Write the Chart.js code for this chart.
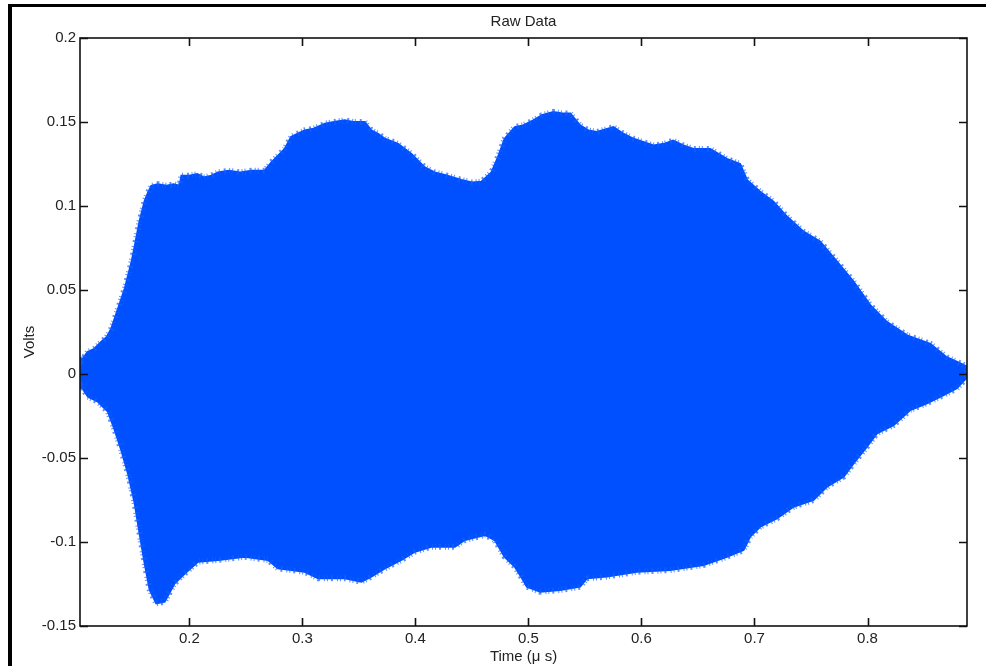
<!DOCTYPE html>
<html>
<head>
<meta charset="utf-8">
<script src="https://cdn.jsdelivr.net/npm/chart.js@4.4.1/dist/chart.umd.min.js"></script>
<style>
  html, body { margin: 0; padding: 0; background: #fff; }
  #wrap { position: relative; width: 986px; height: 666px; overflow: hidden; }
  #frame { position: absolute; left: 8px; top: 4px; width: 990px; height: 700px;
           border-left: 4px solid #000; border-top: 3px solid #000; pointer-events: none; }
  canvas { position: absolute; left: 0; top: 0; }
</style>
</head>
<body>
<div id="wrap">
  <canvas id="c" width="986" height="666"></canvas>
  <div id="frame"></div>
</div>
<script>
// ---- data (envelope of the raw signal) ----
const upperTime = [0.1033,0.1045,0.110,0.116,0.122,0.127,0.131,0.137,0.143,0.149,0.152,0.156,0.1605,0.1635,0.1664,0.172,0.180,0.186,0.1915,0.193,0.200,0.207,0.213,0.2195,0.2254,0.235,0.245,0.255,0.2667,0.2726,0.2785,0.2844,0.290,0.296,0.302,0.310,0.320,0.328,0.3375,0.345,0.3552,0.361,0.367,0.373,0.3847,0.3965,0.4083,0.417,0.426,0.4407,0.450,0.4584,0.4673,0.473,0.479,0.488,0.4953,0.5044,0.512,0.522,0.530,0.537,0.5457,0.553,0.5605,0.5752,0.584,0.593,0.6106,0.620,0.628,0.637,0.646,0.6608,0.6756,0.6873,0.6933,0.705,0.7168,0.7287,0.7434,0.758,0.773,0.7876,0.8024,0.817,0.835,0.8555,0.870,0.885,0.888];
const upperVolts = [0.010,0.008,0.013,0.015,0.019,0.022,0.027,0.039,0.051,0.067,0.077,0.091,0.103,0.108,0.112,0.113,0.112,0.113,0.112,0.118,0.118,0.119,0.117,0.118,0.120,0.121,0.120,0.121,0.121,0.126,0.130,0.134,0.141,0.143,0.145,0.146,0.149,0.150,0.151,0.150,0.150,0.145,0.143,0.140,0.137,0.131,0.123,0.120,0.1185,0.1155,0.114,0.1145,0.120,0.129,0.140,0.147,0.148,0.151,0.154,0.156,0.155,0.155,0.148,0.145,0.144,0.147,0.143,0.140,0.136,0.137,0.139,0.136,0.134,0.134,0.128,0.125,0.1155,0.1085,0.1026,0.0937,0.0847,0.0788,0.0669,0.055,0.041,0.031,0.023,0.018,0.010,0.0054,0.004];
const lowerTime = [0.1033,0.1045,0.1104,0.1192,0.128,0.134,0.1398,0.1457,0.1517,0.156,0.1605,0.165,0.1708,0.1782,0.187,0.196,0.2077,0.2254,0.249,0.2697,0.2785,0.302,0.314,0.3375,0.3522,0.361,0.373,0.3876,0.3995,0.414,0.4349,0.4437,0.4614,0.4703,0.479,0.488,0.4953,0.4986,0.5104,0.528,0.5457,0.5517,0.5694,0.596,0.6254,0.6549,0.6756,0.6903,0.6962,0.705,0.7198,0.7345,0.7522,0.764,0.7788,0.7876,0.7995,0.8083,0.823,0.8378,0.8525,0.8673,0.879,0.888];
const lowerVolts = [-0.009,-0.0075,-0.0135,-0.0165,-0.0224,-0.0333,-0.0452,-0.059,-0.077,-0.0948,-0.1127,-0.1286,-0.1365,-0.1355,-0.1246,-0.1187,-0.1117,-0.1107,-0.1088,-0.1107,-0.1157,-0.1177,-0.1216,-0.1216,-0.1236,-0.1206,-0.1157,-0.1107,-0.1058,-0.1028,-0.1028,-0.0988,-0.0958,-0.0988,-0.1088,-0.1147,-0.1226,-0.1266,-0.1296,-0.1286,-0.1266,-0.1216,-0.1206,-0.1177,-0.1167,-0.1137,-0.1088,-0.1048,-0.0968,-0.0909,-0.0859,-0.0790,-0.0750,-0.0671,-0.0611,-0.0532,-0.0433,-0.0353,-0.0304,-0.0214,-0.0174,-0.0125,-0.0085,-0.002];

const xTicks = [0.2, 0.3, 0.4, 0.5, 0.6, 0.7, 0.8];
const xTickLabels = ['0.2', '0.3', '0.4', '0.5', '0.6', '0.7', '0.8'];
const yTicks = [-0.15, -0.1, -0.05, 0, 0.05, 0.1, 0.15, 0.2];
const yTickLabels = ['-0.15', '-0.1', '-0.05', '0', '0.05', '0.1', '0.15', '0.2'];

const titleText = 'Raw Data';
const xTitle = 'Time (\u03bc s)';
const yTitle = 'Volts';

// closed polygon: upper envelope left->right, lower envelope right->left
const shape = [];
upperTime.forEach((t, i) => shape.push({ x: t, y: upperVolts[i] }));
for (let i = lowerTime.length - 1; i >= 0; i--) shape.push({ x: lowerTime[i], y: lowerVolts[i] });

const FONT = '"Liberation Sans", Arial, Helvetica, sans-serif';
const BLUE = 'rgb(0,80,255)';

const deco = {
  id: 'deco',
  afterDraw(chart) {
    const ctx = chart.ctx, a = chart.chartArea;
    const xs = chart.scales.x, ys = chart.scales.y;
    ctx.save();
    ctx.strokeStyle = '#111';
    ctx.lineWidth = 1.6;
    ctx.strokeRect(a.left, a.top, a.right - a.left, a.bottom - a.top);
    const L = 8;
    ctx.beginPath();
    xTicks.forEach(v => {
      const p = Math.round(xs.getPixelForValue(v)) + 0.5;
      ctx.moveTo(p, a.bottom); ctx.lineTo(p, a.bottom - L);
      ctx.moveTo(p, a.top); ctx.lineTo(p, a.top + L);
    });
    yTicks.forEach(v => {
      const p = Math.round(ys.getPixelForValue(v)) + 0.5;
      ctx.moveTo(a.left, p); ctx.lineTo(a.left + L, p);
      ctx.moveTo(a.right, p); ctx.lineTo(a.right - L, p);
    });
    ctx.stroke();
    ctx.fillStyle = '#222';
    ctx.font = '15px ' + FONT;
    ctx.textAlign = 'center';
    ctx.textBaseline = 'middle';
    ctx.fillText(titleText, (a.left + a.right) / 2, 22);
    ctx.fillText(xTitle, (a.left + a.right) / 2, 657);
    ctx.translate(30, 342);
    ctx.rotate(-Math.PI / 2);
    ctx.fillText(yTitle, 0, 0);
    ctx.restore();
  }
};

new Chart(document.getElementById('c'), {
  type: 'scatter',
  data: {
    datasets: [{
      data: shape,
      showLine: true,
      fill: false,
      borderColor: 'rgba(20,95,255,0.7)',
      borderWidth: 6,
      borderDash: [1, 2, 1, 4, 2, 3],
      pointRadius: 0,
      tension: 0
    }, {
      data: shape,
      showLine: true,
      fill: 'shape',
      backgroundColor: BLUE,
      borderColor: BLUE,
      borderWidth: 2,
      pointRadius: 0,
      tension: 0
    }]
  },
  options: {
    responsive: false,
    animation: false,
    layout: { padding: { top: 38, right: 19, left: 0, bottom: 0 } },
    plugins: { legend: { display: false }, tooltip: { enabled: false } },
    scales: {
      x: {
        type: 'linear', min: 0.1033, max: 0.888,
        afterBuildTicks(s) { s.ticks = xTicks.map(v => ({ value: v })); },
        afterFit(s) { s.height = 40; },
        grid: { display: false, drawTicks: false },
        border: { display: false },
        ticks: {
          padding: 4, color: '#222', font: { size: 15, family: FONT },
          maxRotation: 0, autoSkip: false,
          callback: (v) => { const i = xTicks.indexOf(v); return i >= 0 ? xTickLabels[i] : ''; }
        }
      },
      y: {
        type: 'linear', min: -0.15, max: 0.2,
        afterBuildTicks(s) { s.ticks = yTicks.map(v => ({ value: v })); },
        afterFit(s) { s.width = 80; },
        grid: { display: false, drawTicks: false },
        border: { display: false },
        ticks: {
          padding: 4, color: '#222', font: { size: 15, family: FONT }, autoSkip: false,
          callback: (v) => { const i = yTicks.indexOf(v); return i >= 0 ? yTickLabels[i] : ''; }
        }
      }
    }
  },
  plugins: [deco]
});
</script>
</body>
</html>
